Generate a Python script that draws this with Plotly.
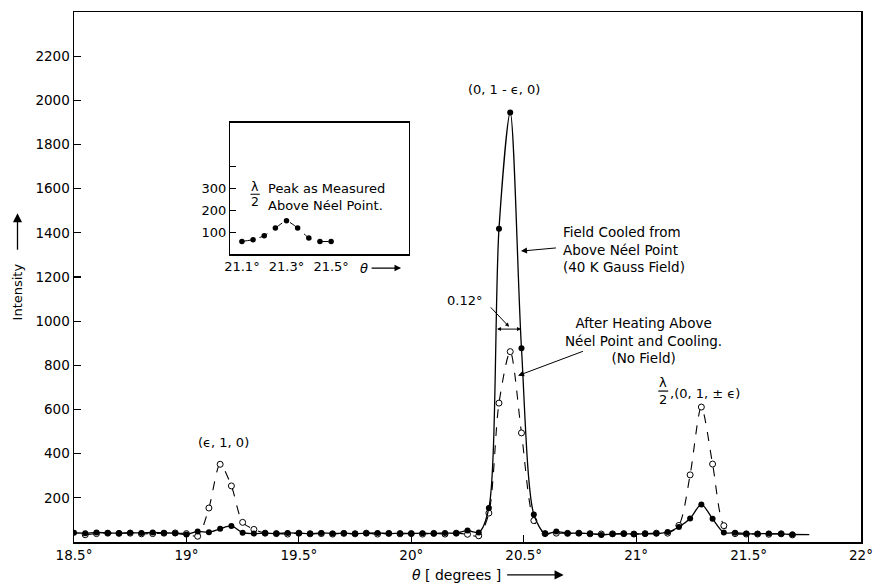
import plotly.graph_objects as go

# ---------------- data ----------------
# Field cooled from above Neel point (filled circles, solid curve)
theta_fc = [18.50, 18.55, 18.60, 18.65, 18.70, 18.75, 18.80, 18.85, 18.90, 18.95,
            19.00, 19.05, 19.10, 19.15, 19.20, 19.25, 19.30, 19.35, 19.40, 19.45,
            19.50, 19.55, 19.60, 19.65, 19.70, 19.75, 19.80, 19.85, 19.90, 19.95,
            20.00, 20.05, 20.10, 20.15, 20.20, 20.25, 20.30, 20.345, 20.39, 20.44,
            20.49, 20.545, 20.595, 20.645, 20.695, 20.745, 20.795, 20.845, 20.895, 20.945,
            20.99, 21.04, 21.09, 21.14, 21.19, 21.24, 21.29, 21.34, 21.39, 21.44,
            21.49, 21.54, 21.59, 21.645, 21.695]
intensity_fc = [42, 40, 43, 41, 40, 42, 41, 43, 41, 40,
                34, 48, 44, 60, 73, 42, 38, 40, 38, 41,
                40, 38, 41, 39, 40, 38, 40, 41, 38, 40,
                39, 40, 38, 41, 40, 52, 43, 154, 1419, 1945,
                877, 125, 38, 47, 40, 40, 38, 32, 36, 37,
                36, 37, 38, 45, 68, 106, 170, 105, 43, 42,
                38, 37, 38, 37, 34]

# After heating above Neel point and cooling (open circles, dashed curve)
theta_ah = [18.55, 18.60, 18.65, 18.70, 18.75, 18.80, 18.85, 18.90, 18.95,
            19.00, 19.05, 19.10, 19.15, 19.20, 19.25, 19.30, 19.35, 19.40, 19.45,
            19.50, 19.55, 19.60, 19.65, 19.70, 19.75, 19.80, 19.85, 19.90, 19.95,
            20.00, 20.05, 20.10, 20.15, 20.20, 20.25, 20.30, 20.345, 20.39, 20.44,
            20.49, 20.545, 20.595, 20.645, 20.695, 20.745, 20.795, 20.845, 20.895, 20.945,
            20.99, 21.04, 21.09, 21.14, 21.19, 21.24, 21.29, 21.34, 21.39, 21.44,
            21.49, 21.54, 21.59, 21.645, 21.695]
intensity_ah = [33, 38, 40, 39, 40, 37, 38, 40, 41,
                38, 26, 154, 352, 254, 89, 57, 40, 38, 36,
                40, 37, 38, 36, 39, 37, 40, 36, 39, 37,
                38, 36, 39, 36, 40, 35, 28, 131, 629, 862,
                494, 97, 38, 40, 39, 40, 37, 36, 37, 38,
                36, 38, 40, 40, 75, 304, 611, 353, 74, 38,
                36, 36, 35, 37, 32]

# end of the drawn solid curve beyond the last measured point
tail_theta = [21.695, 21.77]
tail_intensity = [34, 33]

# Inset: lambda/2 peak as measured above Neel point
theta_inset = [21.10, 21.15, 21.20, 21.25, 21.30, 21.35, 21.40, 21.45, 21.50]
intensity_inset = [59, 67, 85, 120, 153, 120, 75, 59, 59]

x_ticks = [18.5, 19.0, 19.5, 20.0, 20.5, 21.0, 21.5, 22.0]
x_ticklabels = ["18.5°", "19°", "19.5°", "20°", "20.5°", "21°", "21.5°", "22°"]
y_ticks = [200, 400, 600, 800, 1000, 1200, 1400, 1600, 1800, 2000, 2200]
y_ticklabels = ["200", "400", "600", "800", "1000", "1200", "1400", "1600", "1800", "2000", "2200"]
inset_x_ticks = [21.1, 21.3, 21.5]
inset_x_ticklabels = ["21.1°", "21.3°", "21.5°"]
inset_y_ticks = [100, 200, 300, 400]
inset_y_ticklabels = ["100", "200", "300", ""]

# ---------------- geometry ----------------
W, H = 883, 583
L, R, T, B = 74, 15, 10, 41
X0, X1 = 18.5, 22.0
Y0, Y1 = 0, 2400
PW, PH = W - L - R, H - T - B

def paper(px, py):
    return (px - L) / PW, (H - B - py) / PH

def dmain(px, py):
    return X0 + (px - L) / PW * (X1 - X0), Y0 + (H - B - py) / PH * (Y1 - Y0)

# inset box in pixels
IL, IR, IT, IB = 231.7, 411.7, 121, 253.3
IX0, IX1 = 21.048, 21.848
IY0, IY1 = 0, 600
ix_dom = [paper(IL, 0)[0], paper(IR, 0)[0]]
iy_dom = [paper(0, IB)[1], paper(0, IT)[1]]

def dinset(px, py):
    return (IX0 + (px - IL) / (IR - IL) * (IX1 - IX0),
            IY0 + (IB - py) / (IB - IT) * (IY1 - IY0))

FONT = "DejaVu Sans"
BLACK = "black"

fig = go.Figure()

fig.add_trace(go.Scatter(
    x=theta_ah, y=intensity_ah, mode="lines+markers",
    line=dict(color=BLACK, width=1.1, dash="dash", shape="spline", smoothing=0.8),
    marker=dict(symbol="circle", size=6, color="white", line=dict(color=BLACK, width=1)),
    showlegend=False, hoverinfo="skip"))

fig.add_trace(go.Scatter(
    x=theta_fc, y=intensity_fc, mode="lines+markers",
    line=dict(color=BLACK, width=1.3, shape="spline", smoothing=0.8),
    marker=dict(symbol="circle", size=6, color=BLACK),
    showlegend=False, hoverinfo="skip"))

fig.add_trace(go.Scatter(
    x=tail_theta, y=tail_intensity, mode="lines",
    line=dict(color=BLACK, width=1.3),
    showlegend=False, hoverinfo="skip"))

fig.add_trace(go.Scatter(
    x=theta_inset, y=intensity_inset, mode="lines+markers",
    xaxis="x2", yaxis="y2",
    line=dict(color=BLACK, width=1, dash="dash", shape="spline", smoothing=0.5),
    marker=dict(symbol="circle", size=5.5, color=BLACK),
    showlegend=False, hoverinfo="skip"))

axis_common = dict(showgrid=False, zeroline=False, showline=True, linecolor=BLACK,
                   linewidth=1.5, mirror=True, ticks="inside", tickcolor=BLACK,
                   tickwidth=1.2, tickfont=dict(family=FONT, size=13.5, color=BLACK))

fig.update_layout(
    width=W, height=H,
    margin=dict(l=L, r=R, t=T, b=B),
    paper_bgcolor="white", plot_bgcolor="white",
    font=dict(family=FONT, color=BLACK),
    xaxis=dict(range=[X0, X1], tickvals=x_ticks, ticktext=x_ticklabels, ticklen=7,
               **axis_common),
    yaxis=dict(range=[Y0, Y1], tickvals=y_ticks, ticktext=y_ticklabels, ticklen=7,
               **axis_common),
    xaxis2=dict(domain=ix_dom, anchor="y2", range=[IX0, IX1], tickvals=inset_x_ticks,
                ticktext=inset_x_ticklabels, showgrid=False, zeroline=False,
                showline=True, linecolor=BLACK, linewidth=1.3, mirror=True, ticks="",
                tickfont=dict(family=FONT, size=13, color=BLACK)),
    yaxis2=dict(domain=iy_dom, anchor="x2", range=[IY0, IY1], tickvals=inset_y_ticks,
                ticktext=inset_y_ticklabels, showgrid=False, zeroline=False,
                showline=True, linecolor=BLACK, linewidth=1.3, mirror=True,
                ticks="inside", ticklen=6, tickcolor=BLACK, tickwidth=1.1,
                tickfont=dict(family=FONT, size=13, color=BLACK)),
)

ann = []
shapes = []

def text_main(px, py, txt, size=12.5, xanchor="center", align="center"):
    x, y = dmain(px, py)
    ann.append(dict(x=x, y=y, xref="x", yref="y", text=txt, showarrow=False,
                    xanchor=xanchor, yanchor="middle", align=align,
                    font=dict(family=FONT, size=size, color=BLACK)))

def arrow_main(hx, hy, tx, ty, side="end", size=1.0, head=2):
    x, y = dmain(hx, hy)
    ax, ay = dmain(tx, ty)
    ann.append(dict(x=x, y=y, ax=ax, ay=ay, xref="x", yref="y", axref="x", ayref="y",
                    text="", showarrow=True, arrowhead=head, arrowsize=size,
                    arrowwidth=1, arrowcolor=BLACK, arrowside=side,
                    startarrowhead=head, startarrowsize=size))

def text_paper(px, py, txt, size=13, angle=0):
    x, y = paper(px, py)
    ann.append(dict(x=x, y=y, xref="paper", yref="paper", text=txt, showarrow=False,
                    xanchor="center", yanchor="middle", textangle=angle,
                    font=dict(family=FONT, size=size, color=BLACK)))

def arrow_paper(hx, hy, dx, dy, size=1.4, width=1.3):
    x, y = paper(hx, hy)
    ann.append(dict(x=x, y=y, xref="paper", yref="paper", text="", showarrow=True,
                    ax=dx, ay=dy, arrowhead=2, arrowsize=size, arrowwidth=width,
                    arrowcolor=BLACK))

# peak labels
text_main(508, 88, "(0, 1 - ϵ, 0)", size=13)
text_main(224.7, 441.7, "(ϵ, 1, 0)", size=13)
text_main(668.3, 382, "λ", size=13)
text_main(668.3, 399, "2", size=13)
bx0, by0 = dmain(663.5, 390.5)
bx1, _ = dmain(673.5, 390.5)
shapes.append(dict(type="line", xref="x", yref="y", x0=bx0, x1=bx1, y0=by0, y1=by0,
                   line=dict(color=BLACK, width=1.2)))
text_main(673, 392.7, ",(0, 1, ± ϵ)", size=13, xanchor="left")

# field cooled label + arrow
text_main(565, 248, "Field Cooled from<br>Above Néel Point<br>(40 K Gauss Field)",
          size=13.5, xanchor="left", align="left")
arrow_main(525, 250, 561.7, 246.7, size=1.2)

# width marker
text_main(467.5, 300, "0.12°", size=13)
arrow_main(513, 326, 493, 305, size=0.8)
arrow_main(525, 328.3, 499.3, 328.3, side="end+start", size=0.8)

# after heating label + arrow
text_main(649, 340, "After Heating Above<br>Néel Point and Cooling.<br>(No Field)",
          size=13.5, xanchor="center", align="center")
arrow_main(522, 375, 589, 350, size=1.2)

# inset texts
def text_inset(px, py, txt, size=12, xanchor="center", align="center"):
    x, y = dinset(px, py)
    ann.append(dict(x=x, y=y, xref="x2", yref="y2", text=txt, showarrow=False,
                    xanchor=xanchor, yanchor="middle", align=align,
                    font=dict(family=FONT, size=size, color=BLACK)))

text_inset(256.7, 185.5, "λ", size=12.5)
text_inset(256.7, 200.5, "2", size=12.5)
ibx0, iby0 = dinset(252, 193)
ibx1, _ = dinset(261.5, 193)
shapes.append(dict(type="line", xref="x2", yref="y2", x0=ibx0, x1=ibx1, y0=iby0, y1=iby0,
                   line=dict(color=BLACK, width=1.1)))
text_inset(268, 195.5, "Peak as Measured<br>Above Néel Point.", size=13,
           xanchor="left", align="left")

# inset theta arrow (below inset axis)
text_paper(366.7, 267, "<i>θ</i>", size=13)
arrow_paper(404, 267, -31, 0, size=1.1, width=1.2)

# axis titles
text_paper(17, 291, "Intensity", size=13, angle=-90)
arrow_paper(17, 212, 0, 38)
text_paper(460, 575, "<i>θ</i> [ degrees ]", size=14)
arrow_paper(568, 575, -58, 0)

fig.update_layout(annotations=ann, shapes=shapes)

fig.write_html("out.html",
               config={"displayModeBar": False, "staticPlot": True},
               post_script="document.body.style.margin='0';document.body.style.padding='0';"
                           "document.documentElement.style.overflow='hidden';")
